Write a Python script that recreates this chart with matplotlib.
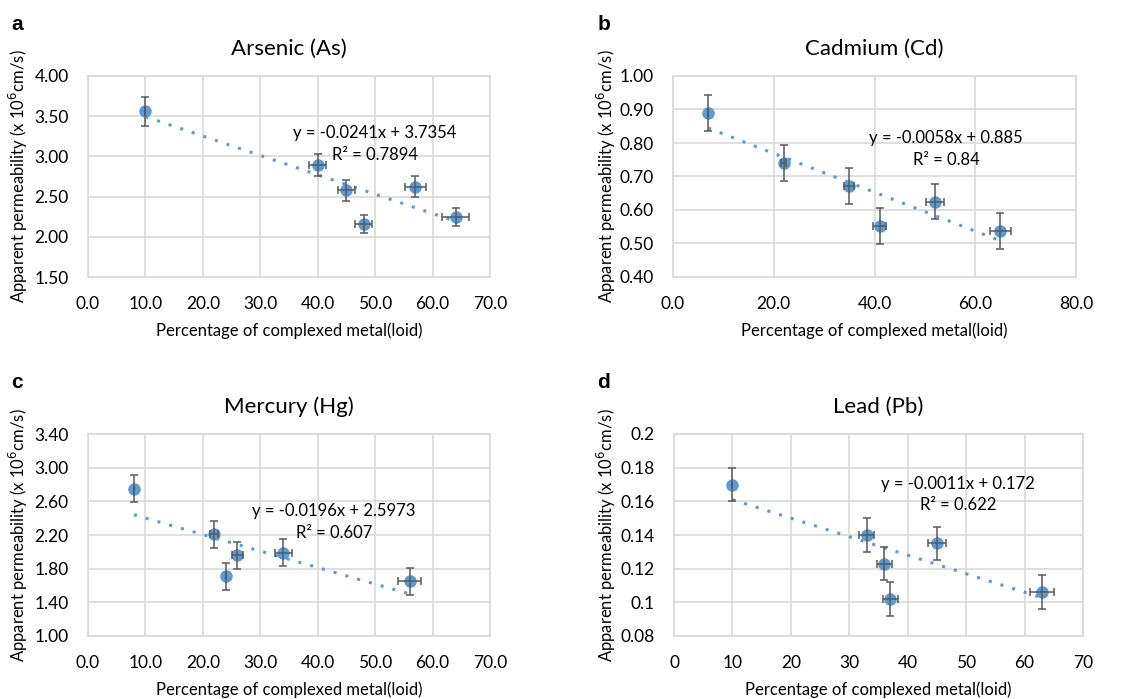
import numpy as np
import matplotlib
matplotlib.use('Agg')
import matplotlib.pyplot as plt
from matplotlib.ticker import FormatStrFormatter, FixedLocator, FuncFormatter

W, H = 1146, 699
plt.rcParams['font.family'] = ['Lato', 'DejaVu Sans']

BLUE = '#5b9bd5'
ERR = '#595959'
GRID = '#d9d9d9'

# ---- data ----
# a: Arsenic
as_x = [10, 40, 45, 48, 57, 64]
as_y = [3.56, 2.89, 2.58, 2.16, 2.62, 2.25]
as_yerr = [0.18, 0.14, 0.13, 0.11, 0.13, 0.11]
as_xerr = [0.0, 1.5, 1.5, 1.5, 1.8, 2.3]
as_fit = (-0.0241, 3.7354)

# b: Cadmium
cd_x = [7, 22, 35, 41, 52, 65]
cd_y = [0.890, 0.741, 0.672, 0.553, 0.625, 0.537]
cd_yerr = [0.054, 0.053, 0.054, 0.054, 0.053, 0.053]
cd_xerr = [0.0, 0.5, 1.0, 1.3, 1.7, 2.0]
cd_fit = (-0.0058, 0.885)

# c: Mercury
hg_x = [8, 22, 24, 26, 34, 56]
hg_y = [2.75, 2.21, 1.71, 1.96, 1.99, 1.65]
hg_yerr = [0.16, 0.16, 0.16, 0.16, 0.16, 0.16]
hg_xerr = [0.0, 0.7, 0.0, 1.0, 1.5, 2.0]
hg_fit = (-0.0196, 2.5973)

# d: Lead
pb_x = [10, 33, 36, 37, 45, 63]
pb_y = [0.170, 0.140, 0.123, 0.102, 0.135, 0.106]
pb_yerr = [0.010, 0.010, 0.010, 0.010, 0.010, 0.010]
pb_xerr = [0.0, 1.3, 1.3, 1.3, 1.5, 2.0]
pb_fit = (-0.0011, 0.172)

panels = [
    dict(letter='a', title='Arsenic (As)', x=as_x, y=as_y, xerr=as_xerr, yerr=as_yerr, fit=as_fit,
         eq='y = -0.0241x + 3.7354', r2='R² = 0.7894',
         box=(88, 76, 490, 277), xlim=(0, 70), xstep=10, ylim=(1.5, 4.0), ystep=0.5,
         xfmt='%.1f', yfmt='%.2f', eqpos=(50.0, 3.29, 3.02)),
    dict(letter='b', title='Cadmium (Cd)', x=cd_x, y=cd_y, xerr=cd_xerr, yerr=cd_yerr, fit=cd_fit,
         eq='y = -0.0058x + 0.885', r2='R² = 0.84',
         box=(673, 76, 1076, 277), xlim=(0, 80), xstep=20, ylim=(0.4, 1.0), ystep=0.1,
         xfmt='%.1f', yfmt='%.2f', eqpos=(54.2, 0.815, 0.749)),
    dict(letter='c', title='Mercury (Hg)', x=hg_x, y=hg_y, xerr=hg_xerr, yerr=hg_yerr, fit=hg_fit,
         eq='y = -0.0196x + 2.5973', r2='R² = 0.607',
         box=(88, 434, 490, 636), xlim=(0, 70), xstep=10, ylim=(1.0, 3.4), ystep=0.4,
         xfmt='%.1f', yfmt='%.2f', eqpos=(42.8, 2.48, 2.22)),
    dict(letter='d', title='Lead (Pb)', x=pb_x, y=pb_y, xerr=pb_xerr, yerr=pb_yerr, fit=pb_fit,
         eq='y = -0.0011x + 0.172', r2='R² = 0.622',
         box=(674, 434, 1083, 636), xlim=(0, 70), xstep=10, ylim=(0.08, 0.2), ystep=0.02,
         xfmt=None, yfmt=None, eqpos=(48.6, 0.170, 0.158)),
]

fig = plt.figure(figsize=(W / 100, H / 100), dpi=100)

for p in panels:
    x0, y0, x1, y1 = p['box']
    ax = fig.add_axes([x0 / W, 1 - y1 / H, (x1 - x0) / W, (y1 - y0) / H])
    ax.set_xlim(*p['xlim'])
    ax.set_ylim(*p['ylim'])
    xt = np.arange(p['xlim'][0], p['xlim'][1] + p['xstep'] / 2, p['xstep'])
    yt = np.arange(p['ylim'][0], p['ylim'][1] + p['ystep'] / 2, p['ystep'])
    ax.xaxis.set_major_locator(FixedLocator(xt))
    ax.yaxis.set_major_locator(FixedLocator(yt))
    if p['xfmt']:
        ax.xaxis.set_major_formatter(FormatStrFormatter(p['xfmt']))
        ax.yaxis.set_major_formatter(FormatStrFormatter(p['yfmt']))
    else:
        ax.xaxis.set_major_formatter(FuncFormatter(lambda v, pos: '%g' % round(v, 6)))
        ax.yaxis.set_major_formatter(FuncFormatter(lambda v, pos: '%g' % round(v, 6)))
    ax.grid(True, color=GRID, linewidth=1.2)
    ax.set_axisbelow(True)
    for s in ax.spines.values():
        s.set_color(GRID)
        s.set_linewidth(1.2)
    ax.tick_params(length=0, labelsize=12.5, colors='#000000')
    ax.tick_params(axis='x', pad=14)
    ax.tick_params(axis='y', pad=14)

    xs = np.array(p['x'], dtype=float)
    m, b = p['fit']
    xf = np.array([xs.min(), xs.max()])
    ax.plot(xf, m * xf + b, color=BLUE, linestyle=(0, (1, 3)), linewidth=2.2, zorder=2)
    ax.plot(xs, p['y'], 'o', color=BLUE, markersize=8, zorder=3)
    ax.errorbar(xs, p['y'], yerr=p['yerr'], xerr=p['xerr'], fmt='none', ecolor=ERR,
                elinewidth=1.1, capsize=2.6, capthick=1.1, zorder=4)

    ex, ey1, ey2 = p['eqpos']
    ax.text(ex, ey1, p['eq'], ha='center', va='center', fontsize=12)
    ax.text(ex, ey2, p['r2'], ha='center', va='center', fontsize=12)

    cx = (x0 + x1) / 2
    fig.text(cx / W, 1 - (y0 - 27) / H, p['title'], ha='center', va='center', fontsize=16)
    fig.text(cx / W, 1 - (y1 + 54) / H, 'Percentage of complexed metal(loid)',
             ha='center', va='center', fontsize=12)
    lx = 18 if x0 < 300 else 606
    fig.text(lx / W, 1 - ((y0 + y1) / 2 - 0) / H, 'Apparent permeability (x 10$^{6}$cm/s)',
             rotation=90, ha='center', va='center', fontsize=12)
    letx = 17 if x0 < 300 else 604
    fig.text(letx / W, 1 - (y0 - 52) / H, p['letter'], ha='center', va='center',
             fontsize=15, fontweight='bold', family=['Liberation Sans', 'DejaVu Sans'])

fig.savefig('out.png', dpi=100)
